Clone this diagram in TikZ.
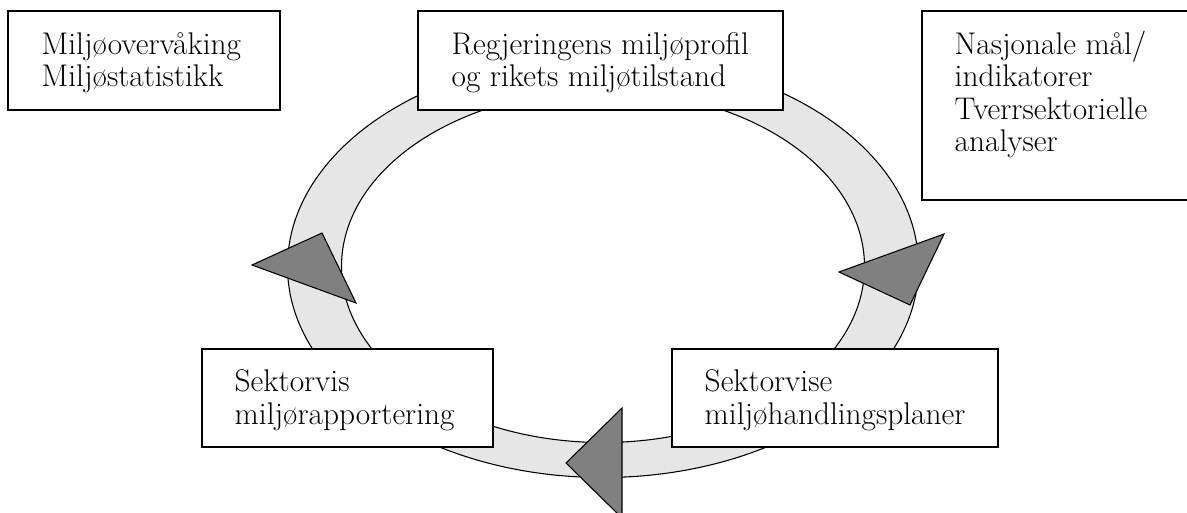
\documentclass[tikz,border=0pt]{standalone}
\usepackage{fontspec}
\usetikzlibrary{calc}
\definecolor{ringgray}{HTML}{E6E6E6}
\definecolor{arrowgray}{HTML}{808080}
\begin{document}
\begin{tikzpicture}[x=0.75pt,y=-0.75pt,
  box/.style={draw=black, fill=white, line width=0.8pt, inner sep=0pt, minimum height=74.25pt},
  lbl/.style={font=\fontsize{23.5}{24.4}\selectfont, align=left, inner sep=0pt, anchor=base west},
  ringline/.style={draw=black, line width=0.8pt},
  tri/.style={fill=arrowgray, draw=black, line width=0.8pt, line join=miter}]
\useasboundingbox (0,0) rectangle (1187,513);
\clip (0,0) rectangle (1187,513);
% ring
\coordinate (c) at (603,266.5);
\fill[ringgray, even odd rule] (c) ellipse [x radius=236.625pt, y radius=158.25pt]
  (c) ellipse [x radius=196.125pt, y radius=132pt];
\draw[ringline] (c) ellipse [x radius=236.625pt, y radius=158.25pt];
\draw[ringline] (c) ellipse [x radius=196.125pt, y radius=132pt];
% arrow heads
\filldraw[tri] (252,265) -- (322,233) -- (356,303) -- cycle;
\filldraw[tri] (839,272) -- (944,234) -- (910,305) -- cycle;
\filldraw[tri] (566,463) -- (622,408) -- (622,518) -- cycle;
% boxes
\node[box, minimum width=204pt] (b1) at (144,60.5) {};
\node[box, minimum width=273.75pt] (b2) at (600.5,60.5) {};
\node[box, minimum width=208.5pt, minimum height=141.75pt] (b3) at (1061,105.5) {};
\node[box, minimum width=218.25pt, minimum height=73.5pt] (b4) at (347.5,398) {};
\node[box, minimum width=244.5pt, minimum height=73.5pt] (b5) at (835,398) {};
% texts (base anchor = baseline of the last line)
\node[lbl] (t1) at ($(b1.north west)+(34,76.5)$) {Miljøovervåking\\Miljøstatistikk};
\node[lbl] (t2) at ($(b2.north west)+(34,76.5)$) {Regjeringens miljøprofil\\og rikets miljøtilstand};
\node[lbl] (t3) at ($(b3.north west)+(33,141.5)$) {Nasjonale mål/\\indikatorer\\Tverrsektorielle\\analyser};
\node[lbl] (t4) at ($(b4.north west)+(33,76)$) {Sektorvis\\miljørapportering};
\node[lbl] (t5) at ($(b5.north west)+(33,76)$) {Sektorvise\\miljøhandlingsplaner};
\end{tikzpicture}
\end{document}
